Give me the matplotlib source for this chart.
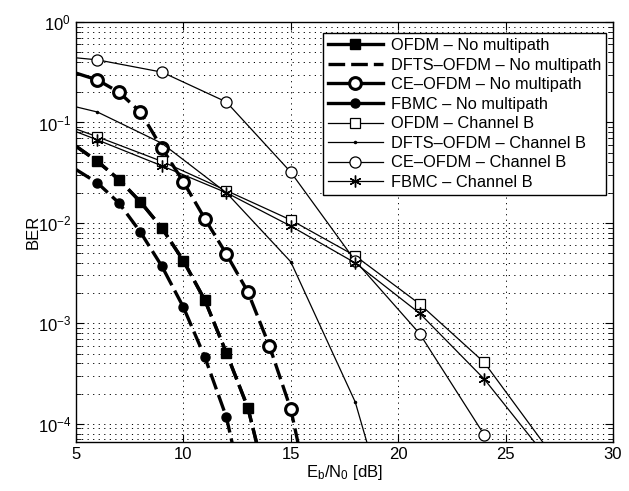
import matplotlib
matplotlib.use("Agg")
import matplotlib.pyplot as plt
import numpy as np

plt.rcParams['font.family'] = ['Liberation Sans', 'DejaVu Sans']
plt.rcParams['mathtext.fontset'] = 'custom'
plt.rcParams['mathtext.rm'] = 'Liberation Sans'
plt.rcParams['mathtext.it'] = 'Liberation Sans:italic'

# ---- data ----
snr_nomp = [5, 6, 7, 8, 9, 10, 11, 12, 13, 14, 15, 16]
ber_ofdm_nomp = [0.058, 0.041, 0.027, 0.0162, 0.0089, 0.0042, 0.0017, 5.1e-4, 1.45e-4, 2.0e-5, None, None]
ber_dfts_nomp = [0.058, 0.041, 0.027, 0.0162, 0.0089, 0.0042, 0.0017, 5.1e-4, 1.45e-4, 2.0e-5, None, None]
ber_ce_nomp = [0.31, 0.265, 0.20, 0.127, 0.0557, 0.0256, 0.011, 0.0049, 0.00206, 6.0e-4, 1.4e-4, 1.4e-5]
ber_fbmc_nomp = [0.034, 0.025, 0.0158, 0.0081, 0.0037, 0.00145, 4.6e-4, 1.17e-4, 1.3e-5, None, None, None]

snr_chb = [5, 6, 9, 12, 15, 18, 21, 24, 27]
ber_ofdm_chb = [0.086, 0.072, 0.041, 0.021, 0.0107, 0.0047, 0.00156, 4.1e-4, 5.5e-5]
ber_dfts_chb = [0.143, 0.127, 0.062, 0.020, 0.0041, 1.65e-4, 1.0e-6, None, None]
ber_ce_chb = [0.44, 0.42, 0.317, 0.16, 0.032, 0.0042, 7.9e-4, 7.8e-5, None]
ber_fbmc_chb = [0.081, 0.067, 0.037, 0.020, 0.0093, 0.0040, 0.00126, 2.8e-4, 4.4e-5]

labels = ['OFDM \u2013 No multipath', 'DFTS\u2013OFDM \u2013 No multipath',
          'CE\u2013OFDM \u2013 No multipath', 'FBMC \u2013 No multipath',
          'OFDM \u2013 Channel B', 'DFTS\u2013OFDM \u2013 Channel B',
          'CE\u2013OFDM \u2013 Channel B', 'FBMC \u2013 Channel B']
xticks = [5, 10, 15, 20, 25, 30]


def clean(x, y):
    xs, ys = [], []
    for a, b in zip(x, y):
        if b is not None:
            xs.append(a)
            ys.append(b)
    return np.array(xs, float), np.array(ys, float)


fig = plt.figure(figsize=(6.29, 4.91), dpi=100)
ax = fig.add_axes([76 / 629, 1 - 442 / 491, (613 - 76) / 629, (442 - 22) / 491])

thick = 2.4
thin = 0.9
dash = (0, (5, 1.8))
me = slice(1, None)

lines = []
x, y = clean(snr_nomp, ber_ofdm_nomp)
lines += ax.plot(x, y, color='k', lw=thick, ls=dash, marker='s', ms=7.5, mfc='k', mec='k', markevery=me)
x, y = clean(snr_nomp, ber_dfts_nomp)
lines += ax.plot(x, y, color='k', lw=thick, ls=dash)
x, y = clean(snr_nomp, ber_ce_nomp)
lines += ax.plot(x, y, color='k', lw=thick, ls=dash, marker='o', ms=8.5, mfc='white', mec='k', mew=2.2, markevery=me)
x, y = clean(snr_nomp, ber_fbmc_nomp)
lines += ax.plot(x, y, color='k', lw=thick, ls=dash, marker='o', ms=6.5, mfc='k', mec='k', markevery=me)

x, y = clean(snr_chb, ber_ofdm_chb)
lines += ax.plot(x, y, color='k', lw=thin, marker='s', ms=7, mfc='white', mec='k', mew=0.9, markevery=me)
x, y = clean(snr_chb, ber_dfts_chb)
lines += ax.plot(x, y, color='k', lw=thin, marker='.', ms=3, markevery=me)
x, y = clean(snr_chb, ber_ce_chb)
lines += ax.plot(x, y, color='k', lw=thin, marker='o', ms=8, mfc='white', mec='k', mew=0.9, markevery=me)
x, y = clean(snr_chb, ber_fbmc_chb)
lines += ax.plot(x, y, color='k', lw=thin, marker=(6, 2, 0), ms=8.5, mfc='k', mec='k', mew=1.0, markevery=me)

ax.set_yscale('log')
ax.set_xlim(5, 30)
ax.set_ylim(6.6e-5, 1)
ax.set_xticks(xticks)
ax.set_xticklabels([str(t) for t in xticks])

grid_ls = (0, (1.2, 4.5))
ax.grid(True, which='major', axis='x', color='k', ls=grid_ls, lw=0.7)
ax.grid(True, which='both', axis='y', color='k', ls=grid_ls, lw=0.7)
ax.tick_params(which='both', direction='in', top=True, right=True, labelsize=12, colors='k')
ax.tick_params(which='major', length=6)
ax.tick_params(which='minor', length=3.5)
for s in ax.spines.values():
    s.set_linewidth(1.0)

ax.set_xlabel('E$_\\mathregular{b}$/N$_\\mathregular{0}$ [dB]', fontsize=12, labelpad=1)
ax.set_ylabel('BER', fontsize=12, labelpad=-2)

leg = ax.legend(lines, labels, loc='upper right', fontsize=11.8, frameon=True,
                fancybox=False, edgecolor='k', framealpha=1, handlelength=3.4,
                handletextpad=0.45, labelspacing=0.28, borderpad=0.3,
                borderaxespad=0,
                bbox_to_anchor=((606 - 76) / 537, 1 - 11 / 420))
leg.get_frame().set_linewidth(1.0)
for i, ln in enumerate(leg.get_lines()):
    if i in (0, 2, 3):
        ln.set_linestyle('-')

fig.savefig('out.png', dpi=100)
